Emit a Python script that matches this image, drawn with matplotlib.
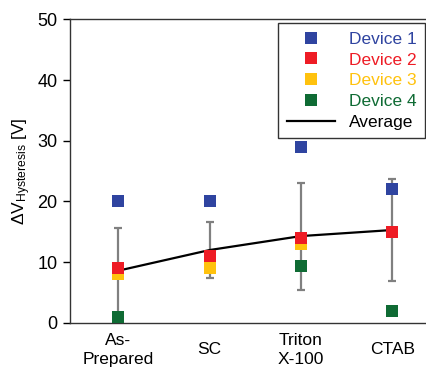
import matplotlib.pyplot as plt
from matplotlib.lines import Line2D

plt.rcParams['font.family'] = ['Liberation Sans', 'DejaVu Sans']
plt.rcParams['mathtext.fontset'] = 'custom'
plt.rcParams['mathtext.rm'] = 'Liberation Sans'
plt.rcParams['mathtext.it'] = 'Liberation Sans'

categories = ["As-\nPrepared", "SC", "Triton\nX-100", "CTAB"]
device1 = [20, 20, 29, 22]
device2 = [9, 11, 14, 15]
device3 = [8, 9, 13, 15]
device4 = [1, 9, 9.4, 2]
average = [8.6, 12.0, 14.3, 15.3]
error = [7.0, 4.6, 8.8, 8.4]

device_names = ["Device 1", "Device 2", "Device 3", "Device 4"]
device_colors = ["#2f44a0", "#ee1c25", "#ffc20e", "#0f6b34"]

fig = plt.figure(figsize=(4.26, 3.72), dpi=100)
ax = fig.add_axes([0.164, 0.132, 0.836, 0.816])

x = list(range(len(categories)))

ax.errorbar(x, average, yerr=error, fmt="none", ecolor="#808080",
            elinewidth=1.6, capsize=3, capthick=1.6, zorder=2)
ax.plot(x, average, color="black", linewidth=1.6, zorder=3)

series = [device1, device2, device3, device4]
for values, color, z in zip(series, device_colors, [5, 6, 5, 4]):
    ax.plot(x, values, linestyle="none", marker="s", markersize=8.5,
            color=color, markeredgewidth=0, zorder=z)

ax.set_xlim(-0.53, 3.37)
ax.set_ylim(0, 50)
ax.set_yticks([0, 10, 20, 30, 40, 50])
ax.set_xticks(x)
ax.set_xticklabels(categories, fontsize=12.5, linespacing=1.3)
for lab in ax.get_xticklabels():
    lab.set_verticalalignment("center")
ax.tick_params(axis="x", length=0, pad=19.5)
ax.tick_params(axis="y", labelsize=13, length=5, width=1, direction="out", pad=4)
ax.set_ylabel(r"$\Delta$V$_{\mathrm{Hysteresis}}$ [V]", fontsize=12.5, labelpad=3)

ax.spines["right"].set_visible(False)
for side in ["left", "bottom", "top"]:
    ax.spines[side].set_linewidth(1.0)
    ax.spines[side].set_color("#333333")

handles = [Line2D([], [], linestyle="none", marker="s", markersize=8.5,
                  color=c, markeredgewidth=0) for c in device_colors]
handles.append(Line2D([], [], color="black", linewidth=1.6))
labels = device_names + ["Average"]
leg = ax.legend(handles, labels, loc="upper right", bbox_to_anchor=(0.997, 0.988),
                fontsize=12.5, frameon=True, fancybox=False, borderpad=0.5,
                labelspacing=0.32, handlelength=2.8, handletextpad=0.75,
                borderaxespad=0)
leg.get_frame().set_edgecolor("black")
leg.get_frame().set_linewidth(1.0)
for text, color in zip(leg.get_texts(), device_colors + ["black"]):
    text.set_color(color)

fig.savefig("out.png", dpi=100)
